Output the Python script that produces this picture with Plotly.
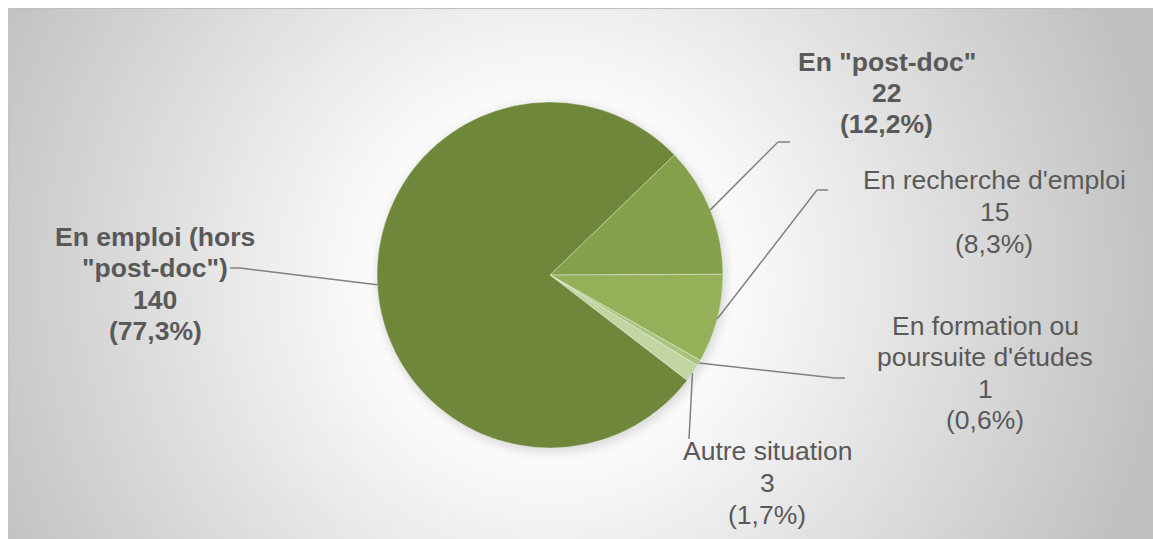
import base64
import math

import plotly.graph_objects as go

# data
labels = ["En \"post-doc\"", "En recherche d'emploi", "En formation ou<br>poursuite d'études",
          "Autre situation", "En emploi (hors<br>\"post-doc\")"]
values = [22, 15, 1, 3, 140]
colors = ["#84a04a", "#94b15a", "#a9c47c", "#c2d5a3", "#6f873b"]
bold = [True, False, False, False, True]

W, H = 1145, 531          # figure size, placed 8px from the top-left of the page
ROT = 46                  # start angle, degrees clockwise from 12 o'clock
CX, CY, R = 542, 267, 173  # pie centre and radius in figure pixels
LINE_H = 31.5             # label line spacing in pixels


def fx(x):
    return x / W


def fy(y):
    return 1 - y / H


# label centres and leader line elbows (figure pixels)
label_pos = [(879, 85), (986, 204), (977, 365), (759, 475), (147, 276)]
elbows = [[(770, 134), (782, 134)],
          [(809, 182), (820, 182)],
          [(827, 370), (837, 370)],
          [(681, 431)],
          [(232, 260), (222, 260)]]

total = sum(values)

svg = f"""<svg xmlns="http://www.w3.org/2000/svg" width="{W}" height="{H}">
<defs>
<radialGradient id="g" gradientUnits="userSpaceOnUse" cx="{CX}" cy="{CY + 5}" r="620">
<stop offset="0.24" stop-color="#ffffff"/><stop offset="1" stop-color="#c0c0c0"/>
</radialGradient>
<filter id="b" x="-20%" y="-20%" width="140%" height="140%"><feGaussianBlur stdDeviation="5"/></filter>
</defs>
<rect width="{W}" height="{H}" fill="url(#g)"/>
<circle cx="{CX + 2}" cy="{CY + 3}" r="{R + 2}" fill="#000" fill-opacity="0.13" filter="url(#b)"/>
</svg>"""
bg = "data:image/svg+xml;base64," + base64.b64encode(svg.encode("utf-8")).decode("ascii")

fig = go.Figure(go.Pie(
    labels=labels,
    values=values,
    sort=False,
    direction="clockwise",
    rotation=ROT,
    marker=dict(colors=colors, line=dict(color="rgba(255,255,255,0.35)", width=1)),
    textinfo="none",
    hoverinfo="label+value+percent",
    showlegend=False,
    domain=dict(x=[fx(CX - R), fx(CX + R)], y=[fy(CY + R), fy(CY - R)]),
))

shapes = [
    dict(type="line", xref="paper", yref="paper", x0=0, x1=1, y0=1, y1=1,
         line=dict(color="#bfbfbf", width=2)),
    dict(type="line", xref="paper", yref="paper", x0=0, x1=0, y0=0, y1=1,
         line=dict(color="#c4c4c4", width=2)),
]
annotations = []
start = 0
for i, v in enumerate(values):
    mid = math.radians(ROT + 360 * (start + v / 2) / total)
    start += v
    pts = [(CX + R * math.sin(mid), CY - R * math.cos(mid))] + elbows[i]
    for (x0, y0), (x1, y1) in zip(pts[:-1], pts[1:]):
        shapes.append(dict(type="line", xref="paper", yref="paper",
                           x0=fx(x0), y0=fy(y0), x1=fx(x1), y1=fy(y1),
                           line=dict(color="#808080", width=1.5)))

    pct = f"{100 * v / total:.1f}".replace(".", ",")
    lines = labels[i].split("<br>") + [str(v), f"({pct}%)"]
    lx, ly = label_pos[i]
    top = ly - LINE_H * (len(lines) - 1) / 2
    for k, t in enumerate(lines):
        annotations.append(dict(x=fx(lx), y=fy(top + k * LINE_H), xref="paper", yref="paper",
                                text=f"<b>{t}</b>" if bold[i] else t,
                                showarrow=False, xanchor="center", yanchor="middle",
                                font=dict(family="Liberation Sans, Arial, sans-serif", size=26.5,
                                          color="#595959")))

fig.update_layout(
    width=W,
    height=H,
    margin=dict(l=0, r=0, t=0, b=0),
    paper_bgcolor="white",
    images=[dict(source=bg, xref="paper", yref="paper", x=0, y=1, sizex=1, sizey=1,
                 sizing="stretch", xanchor="left", yanchor="top", layer="below")],
    shapes=shapes,
    annotations=annotations,
)

# keep the 8px offset top/left only, so the chart runs to the right and bottom edges
fig.write_html("out.html", post_script="document.body.style.margin = '8px 0 0 8px';")
